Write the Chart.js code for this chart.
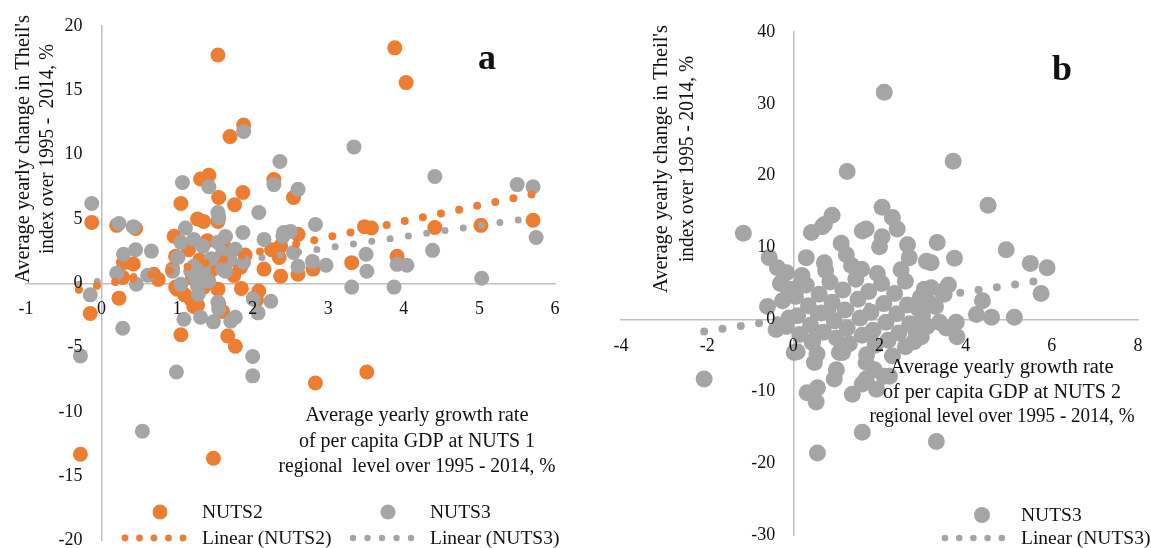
<!DOCTYPE html>
<html><head><meta charset="utf-8">
<script src="https://cdn.jsdelivr.net/npm/chart.js@4/dist/chart.umd.min.js"></script>
<style>
html,body{margin:0;padding:0;background:#fff;width:1151px;height:548px;overflow:hidden}
#wrapA{position:absolute;left:0;top:0;width:575px;height:548px}
#wrapB{position:absolute;left:575px;top:0;width:576px;height:548px}
</style></head><body>
<div id="wrapA"><canvas id="chartA" width="575" height="548"></canvas></div>
<div id="wrapB"><canvas id="chartB" width="576" height="548"></canvas></div>
<script>
// ---------- DATA ----------
const seriesNames = ['NUTS2', 'NUTS3', 'Linear (NUTS2)', 'Linear (NUTS3)'];
const panelLabels = ['a', 'b'];
const yTitleLines = ["Average yearly change in Theil's", 'index over 1995 -  2014, %'];
const yTitleLinesB = ["Average yearly change in Theil's", 'index over 1995 - 2014, %'];
const xTitleLinesA = ['Average yearly growth rate', 'of per capita GDP at NUTS 1', 'regional  level over 1995 - 2014, %'];
const xTitleLinesB = ['Average yearly growth rate', 'of per capita GDP at NUTS 2', 'regional level over 1995 - 2014, %'];

const leftXTicks = [-1, 0, 1, 2, 3, 4, 5, 6];
const leftYTicks = [-20, -15, -10, -5, 0, 5, 10, 15, 20];
const rightXTicks = [-4, -2, 0, 2, 4, 6, 8];
const rightYTicks = [-30, -20, -10, 0, 10, 20, 30, 40];

// Panel a: NUTS2 regions (orange)
const leftNuts2 = [
  [1.54,17.75],[3.88,18.3],[4.03,15.6],[1.88,12.3],[1.70,11.4],[1.42,8.4],[1.31,8.1],[2.28,8.06],
  [1.87,7.05],[1.55,6.67],[2.54,6.67],[1.76,6.1],[1.05,6.2],[1.27,5.0],[1.35,4.8],[1.54,4.8],
  [-0.13,4.73],[0.2,4.5],[0.45,4.26],[0.96,3.65],[2.6,3.8],[2.37,2.9],[2.35,2.0],[2.37,0.55],
  [2.6,0.7],[2.8,1.1],[1.84,1.24],[0.98,2.1],[0.94,1.1],[0.69,0.7],[0.29,1.6],[0.42,1.5],
  [0.28,0.45],[3.31,1.6],[3.48,4.4],[3.57,4.3],[3.91,2.1],[4.41,4.33],[5.02,4.5],[5.71,4.9],
  [1.0,-0.46],[0.98,-0.3],[1.18,-1.24],[1.22,-1.8],[1.27,-1.7],[1.54,-0.46],[1.55,-1.6],[1.6,-2.2],
  [2.01,-1.16],[2.08,-0.6],[2.05,-1.3],[0.23,-1.16],[-0.15,-2.35],[1.05,-4.0],[1.67,-4.1],[1.77,-4.9],
  [-0.28,-13.3],[1.48,-13.6],[2.83,-7.75],[3.51,-6.9],
  [1.15,2.6],[1.3,1.8],[1.45,1.0],[1.62,2.9],[1.75,0.6],[1.2,0.4],[1.4,3.3],[1.9,2.2],
  [2.15,1.1],[2.25,2.6],[1.1,-0.9],[1.35,-0.3],[1.85,-0.4],[1.6,1.4],[0.75,0.3]
];
// Panel a: NUTS3 regions (grey)
const leftNuts3 = [
  [3.34,10.6],[2.36,9.47],[1.88,11.8],[2.28,7.67],[2.6,7.3],[1.07,7.83],[1.42,7.5],[2.08,5.5],
  [1.54,5.5],[1.55,5.1],[4.41,8.3],[5.5,7.67],[5.71,7.5],[5.75,3.56],[-0.13,6.2],[0.23,4.65],
  [0.42,4.4],[0.29,2.25],[0.45,2.6],[0.66,2.5],[0.2,0.78],[0.46,-0.08],[0.61,0.62],[-0.15,-0.9],
  [1.11,4.3],[1.87,3.95],[1.64,3.64],[1.22,3.41],[1.34,2.87],[1.05,3.18],[1.01,2.0],[0.94,0.93],
  [1.22,1.32],[1.18,0.93],[1.25,0.31],[1.31,0.16],[1.42,0.16],[1.54,3.18],[1.6,2.4],[1.6,1.09],
  [1.64,0.93],[1.77,2.64],[1.88,1.63],[2.15,3.41],[2.41,3.95],[2.5,4.03],[2.4,3.64],[2.54,2.4],
  [2.6,1.32],[2.79,1.7],[2.83,4.57],[2.97,1.4],[3.5,2.25],[3.51,0.93],[3.31,-0.3],[3.87,-0.3],
  [3.91,1.47],[4.04,1.4],[4.38,2.56],[5.03,0.39],[1.05,-0.08],[1.27,-0.23],[1.28,-0.85],[1.54,-1.47],
  [1.55,-2.0],[1.09,-2.8],[1.31,-2.64],[1.48,-3.0],[1.71,-2.95],[1.77,-2.64],[2.01,-1.24],[2.24,-1.4],
  [2.07,-2.3],[-0.28,-5.65],[0.28,-3.5],[0.54,-11.5],[0.99,-6.9],[2.0,-5.7],[2.0,-7.2],[1.45,1.9],
  [1.7,1.8],[1.35,1.0]
];
// Panel a trend lines (end points)
const leftTrendNuts2 = [[-0.3,-0.5],[5.75,6.98]];
const leftTrendNuts3 = [[-0.3,-0.08],[5.75,5.13]];

// Panel b: NUTS3 regions (grey)
const rightNuts3 = [
  [2.11,31.6],[1.25,20.6],[3.71,22.0],[4.52,15.9],[-1.16,12.0],[-0.56,8.6],[-0.37,7.2],[-0.16,6.5],
  [0.3,8.6],[0.42,12.1],[0.67,12.9],[0.9,14.5],[0.72,13.2],[1.11,10.6],[1.23,9.0],[0.72,7.9],
  [1.6,12.3],[1.69,12.6],[1.58,7.0],[2.06,15.6],[2.3,14.2],[2.41,12.6],[2.06,11.5],[2.0,10.1],
  [2.65,10.4],[2.69,8.6],[3.09,8.1],[3.34,10.7],[3.2,7.9],[3.74,8.5],[4.94,9.7],[5.5,7.8],
  [5.89,7.2],[5.75,3.6],[5.13,0.3],[4.25,0.7],[4.6,0.3],[4.39,2.6],[3.78,-0.4],[3.8,-2.4],
  [3.5,3.5],[3.39,-0.4],[2.92,-1.6],[2.85,-1.8],[3.32,-17.0],[1.6,-15.7],[2.11,-7.9],[1.69,-8.3],
  [-0.6,1.8],[-0.4,-1.4],[-2.07,-8.3],[0.09,-4.5],[0.49,-6.0],[1.0,-7.0],[0.95,-8.3],[0.32,-10.2],
  [0.56,-9.5],[0.53,-11.5],[1.37,-10.4],[1.6,-9.0],[0.56,-18.6],[1.88,-7.0],[2.23,-7.9],[1.93,-9.7],
  [1.14,-4.6],[1.69,-6.0],[0.02,-4.6],[-0.16,-1.0],[0.44,-3.2],[1.07,-4.6],[-0.1,3.9],[0.14,4.6],
  [3.46,3.9],[3.04,4.2],[3.04,2.8],[3.22,2.1],[2.97,-1.4],[2.97,-2.4],[-0.09,4.2],
  [0.05,3.2],[0.1,0.5],[0.15,-2.1],[0.3,4.8],[0.35,1.9],[0.4,-0.8],[0.45,-3.0],[0.6,3.5],
  [0.65,0.9],[0.7,-1.8],[0.85,5.2],[0.9,2.4],[0.95,-0.2],[1.0,-2.6],[1.15,4.1],[1.2,1.3],
  [1.25,-1.2],[1.3,-3.4],[1.45,5.6],[1.5,2.8],[1.55,0.2],[1.6,-2.2],[1.75,3.9],[1.8,1.0],
  [1.85,-1.5],[1.9,-3.6],[2.05,5.0],[2.1,2.2],[2.15,-0.4],[2.2,-2.9],[2.35,3.6],[2.4,0.8],
  [2.45,-1.9],[2.6,5.3],[2.65,2.0],[2.7,-0.6],[2.8,-3.1],[2.95,3.1],[3.0,0.5],[3.1,-1.0],
  [0.2,6.1],[0.75,6.8],[1.35,7.5],[1.95,6.4],[2.5,6.9],[-0.25,2.6],[-0.1,0.2],[0.55,-4.8],
  [1.7,-4.9],[2.3,-5.1],[2.6,-3.8],[3.3,1.8],[3.55,-1.2],[2.9,1.5],[3.6,4.8],[3.2,4.4],[-0.3,5.0]
];
const rightTrendNuts3 = [[-2.07,-1.67],[5.89,5.55]];

// ---------- RENDERING ----------
const FONT = "'Liberation Serif', 'DejaVu Serif', serif";
const ORANGE = '#ED7D31';
const GREY = '#A5A5A5';
const AXIS = '#BFBFBF';
const TEXT = '#111111';
const toXY = arr => arr.map(p => ({x: p[0], y: p[1]}));

const decorPlugin = {
  id: 'decor',
  afterDraw(chart, args, o) {
    const ctx = chart.ctx;
    const sx = chart.scales.x, sy = chart.scales.y;
    ctx.save();
    ctx.fillStyle = TEXT;
    // tick labels next to the crossing axes
    ctx.font = '18px ' + FONT;
    ctx.textBaseline = 'middle';
    const x0 = sx.getPixelForValue(0), y0 = sy.getPixelForValue(0);
    ctx.textAlign = 'right';
    o.yTicks.forEach(v => ctx.fillText(String(v), x0 - o.yTickGap, sy.getPixelForValue(v)));
    ctx.textAlign = 'center';
    o.xTicks.forEach(v => ctx.fillText(String(v), sx.getPixelForValue(v), y0 + o.xTickGap));
    // axis titles
    ctx.font = o.titleSize + 'px ' + FONT;
    o.yTitle.lines.forEach((t, i) => {
      ctx.save();
      ctx.translate(o.yTitle.xs[i], o.yTitle.y);
      ctx.rotate(-Math.PI / 2);
      ctx.fillText(t, 0, 0, o.yTitle.maxW[i]);
      ctx.restore();
    });
    o.xTitle.lines.forEach((t, i) => ctx.fillText(t, o.xTitle.x, o.xTitle.ys[i], o.xTitle.maxW[i]));
    ctx.font = 'bold ' + o.panel.size + 'px ' + FONT;
    ctx.fillText(o.panel.text, o.panel.x, o.panel.y);
    ctx.font = o.legendSize + 'px ' + FONT;
    ctx.textAlign = 'left';
    o.legend.forEach(it => {
      ctx.fillStyle = it.color;
      if (it.kind === 'marker') {
        ctx.beginPath(); ctx.arc(it.sx, it.y, it.r, 0, Math.PI * 2); ctx.fill();
      } else {
        for (let k = 0; k < it.n; k++) {
          ctx.beginPath(); ctx.arc(it.sx + k * it.gap, it.y, it.r, 0, Math.PI * 2); ctx.fill();
        }
      }
      ctx.fillStyle = TEXT;
      ctx.fillText(it.text, it.tx, it.y + 1);
    });
    ctx.restore();
  }
};

function axis(min, max, tickList, pos, horizontal) {
  return {
    type: 'linear', min, max, position: pos,
    grid: {display: false, drawTicks: false},
    border: {display: true, color: AXIS, width: 1.5},
    ticks: {display: false, autoSkip: false, maxRotation: 0, minRotation: 0},
    afterBuildTicks: s => { s.ticks = tickList.map(v => ({value: v})); },
    afterFit: s => {
      if (horizontal) s.height = 0; else s.width = 0;
      s.paddingTop = 0; s.paddingBottom = 0; s.paddingLeft = 0; s.paddingRight = 0;
    }
  };
}

function trend(label, pts, color, width, order) {
  return {label, data: toXY(pts), showLine: true, pointRadius: 0, borderColor: color,
    backgroundColor: color, borderWidth: width, borderDash: [0, 18.5], borderCapStyle: 'round',
    fill: false, order};
}

Chart.register(decorPlugin);

new Chart(document.getElementById('chartA'), {
  type: 'scatter',
  data: {datasets: [
    {label: seriesNames[1], data: toXY(leftNuts3), backgroundColor: GREY, borderWidth: 0, pointRadius: 7.5, order: 1},
    {label: seriesNames[0], data: toXY(leftNuts2), backgroundColor: ORANGE, borderWidth: 0, pointRadius: 7.5, order: 2},
    trend(seriesNames[2], leftTrendNuts2, ORANGE, 8, 0),
    trend(seriesNames[3], leftTrendNuts3, GREY, 7, 0)
  ]},
  options: {
    responsive: false, animation: false, events: [],
    layout: {padding: {left: 26, right: 20, top: 26, bottom: 6}},
    scales: {
      x: axis(-1, 6, leftXTicks, {y: 0}, true),
      y: axis(-20, 20, leftYTicks, {x: 0}, false)
    },
    plugins: {
      legend: {display: false}, tooltip: {enabled: false},
      decor: {
        xTicks: leftXTicks, yTicks: leftYTicks, xTickGap: 26, yTickGap: 19,
        titleSize: 20.5, legendSize: 19.5,
        yTitle: {lines: yTitleLines, xs: [24, 48], y: 149, maxW: [268, 210]},
        xTitle: {lines: xTitleLinesA, x: 417, ys: [416, 442, 467], maxW: [226, 236, 277]},
        panel: {text: panelLabels[0], x: 487, y: 60, size: 36},
        legend: [
          {kind: 'marker', color: ORANGE, sx: 160, y: 512, r: 7.5, text: seriesNames[0], tx: 202},
          {kind: 'marker', color: GREY, sx: 388, y: 512, r: 7.5, text: seriesNames[1], tx: 430},
          {kind: 'dots', color: ORANGE, sx: 125, gap: 14.5, n: 5, y: 538, r: 3.4, text: seriesNames[2], tx: 202},
          {kind: 'dots', color: GREY, sx: 353, gap: 14.5, n: 5, y: 538, r: 3.2, text: seriesNames[3], tx: 430}
        ]
      }
    }
  }
});

new Chart(document.getElementById('chartB'), {
  type: 'scatter',
  data: {datasets: [
    {label: seriesNames[1], data: toXY(rightNuts3), backgroundColor: GREY, borderWidth: 0, pointRadius: 8.5, order: 1},
    trend(seriesNames[3], rightTrendNuts3, GREY, 8, 0)
  ]},
  options: {
    responsive: false, animation: false, events: [],
    layout: {padding: {left: 46, right: 13, top: 32, bottom: 13}},
    scales: {
      x: axis(-4, 8, rightXTicks, {y: 0}, true),
      y: axis(-30, 40, rightYTicks, {x: 0}, false)
    },
    plugins: {
      legend: {display: false}, tooltip: {enabled: false},
      decor: {
        xTicks: rightXTicks, yTicks: rightYTicks, xTickGap: 27, yTickGap: 18,
        titleSize: 20.5, legendSize: 19.5,
        yTitle: {lines: yTitleLinesB, xs: [87, 113], y: 159, maxW: [268, 206]},
        xTitle: {lines: xTitleLinesB, x: 427, ys: [368, 393, 417], maxW: [225, 238, 265]},
        panel: {text: panelLabels[1], x: 487, y: 71, size: 36},
        legend: [
          {kind: 'marker', color: GREY, sx: 407, y: 515, r: 8, text: seriesNames[1], tx: 446},
          {kind: 'dots', color: GREY, sx: 370, gap: 14.2, n: 5, y: 538, r: 3.3, text: seriesNames[3], tx: 446}
        ]
      }
    }
  }
});
</script>
</body></html>
